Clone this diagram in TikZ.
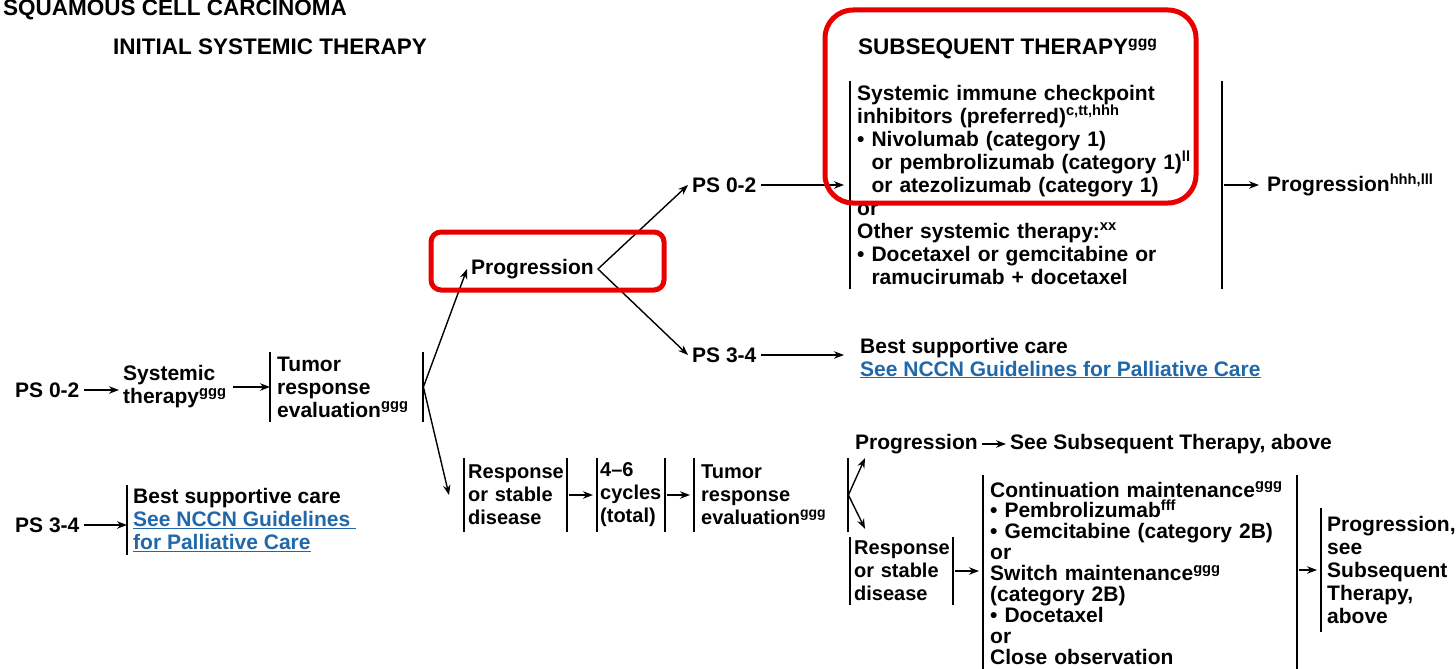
\documentclass[tikz,border=0pt]{standalone}
\usepackage{fontspec}
\setmainfont{Liberation Sans}
\usetikzlibrary{positioning,arrows.meta}

\definecolor{linkblue}{RGB}{33,104,170}
\definecolor{markred}{RGB}{232,0,0}
\newcommand{\ftn}[1]{\textsuperscript{#1}}

\begin{document}
\begin{tikzpicture}[x=1pt,y=-1pt,
  font=\fontsize{21}{23}\selectfont\bfseries,
  every node/.style={inner sep=4pt},
  txt/.style={anchor=west,align=left},
  brk/.style={anchor=west,align=left,inner xsep=7pt,inner ysep=0pt},
  head/.style={anchor=base west,inner sep=0pt,font=\fontsize{22.5}{24}\selectfont\bfseries},
  lowtxt/.style={font=\fontsize{20}{23}\selectfont\bfseries},
  bar/.style={line width=2pt},
  arr/.style={->,>={Stealth[length=10pt,width=7.5pt]},line width=1.4pt},
  gap/.style={shorten <=2pt,shorten >=4pt},
  redbox/.style={draw=markred,line width=5pt}]

\useasboundingbox (0,0) rectangle (1456,669);

\node[head] (hsq) at (3,16) {SQUAMOUS CELL CARCINOMA};
\node[head] (hini) at (113,55) {INITIAL SYSTEMIC THERAPY};
\node[head] (hsub) at (858,55) {SUBSEQUENT THERAPY\ftn{ggg}};

% initial therapy
\node[txt] (ps02a) at (11,390) {PS 0-2};
\node[txt] (sysA) at (119,387) {Systemic\\therapy\ftn{ggg}};
\node[brk,text width=139pt,minimum height=70pt] (tumorA) at (270,387)
  {Tumor\\response\\evaluation\ftn{ggg}};
\node[txt] (ps34a) at (11,525) {PS 3-4};
\node[brk,inner xsep=6pt,minimum height=70pt] (bscA) at (127,520)
  {Best supportive care\\
   \textcolor{linkblue}{\underline{See NCCN Guidelines\ }}\\
   \textcolor{linkblue}{\underline{for Palliative Care}}};

% progression
\node[txt] (prog) at (467,269) {Progression};
\node[txt] (ps02b) at (688,185) {PS 0-2};
\node[txt] (ps34b) at (688,355) {PS 3-4};
\node[brk,text width=358pt,minimum height=208pt] (subs) at (850,185)
  {Systemic immune checkpoint\\
   inhibitors (preferred)\ftn{c,tt,hhh}\\
   \textbullet\ Nivolumab (category 1)\\
   \phantom{\textbullet\ }or pembrolizumab (category 1)\ftn{ll}\\
   \phantom{\textbullet\ }or atezolizumab (category 1)\\
   or\\
   Other systemic therapy:\ftn{xx}\\
   \textbullet\ Docetaxel or gemcitabine or\\
   \phantom{\textbullet\ }ramucirumab + docetaxel};
\node[txt] (progB) at (1263,185) {Progression\ftn{hhh,lll}};
\node[txt,inner xsep=8pt] (bscB) at (852,358)
  {Best supportive care\\
   \textcolor{linkblue}{\underline{See NCCN Guidelines for Palliative Care}}};

% response or stable disease
\node[brk,lowtxt,text width=95pt,inner xsep=4pt,minimum height=74pt] (respA) at (464,495)
  {Response\\or stable\\disease};
\node[brk,lowtxt,text width=62pt,inner xsep=3pt,minimum height=74pt] (cyc) at (597,495)
  {4--6\\cycles\\(total)};
\node[brk,lowtxt,text width=140pt,minimum height=74pt] (tumorB) at (694,495)
  {Tumor\\response\\evaluation\ftn{ggg}};
\node[txt] (progC) at (851,444) {Progression};
\node[txt] (seeSub) at (1006,444) {See Subsequent Therapy, above};
\node[brk,lowtxt,text width=95pt,inner xsep=4pt,minimum height=68pt] (respB) at (850,571)
  {Response\\or stable\\disease};
\node[brk,text width=300pt,minimum height=196pt,
  font=\fontsize{21}{20.9}\selectfont\bfseries] (contB) at (983,573)
  {Continuation maintenance\ftn{ggg}\\
   \textbullet\ Pembrolizumab\ftn{fff}\\
   \textbullet\ Gemcitabine (category 2B)\\
   or\\
   Switch maintenance\ftn{ggg}\\
   (category 2B)\\
   \textbullet\ Docetaxel\\
   or\\
   Close observation};
\node[brk,inner xsep=6pt,text width=132pt,minimum height=124pt] (progD) at (1321,570)
  {Progression,\\see\\Subsequent\\Therapy,\\above};

% bars
\foreach \n in {tumorA,subs,respA,cyc,tumorB,respB,contB}
  \draw[bar] (\n.north west) -- (\n.south west) (\n.north east) -- (\n.south east);
\foreach \n in {bscA,progD}
  \draw[bar] (\n.north west) -- (\n.south west);

% arrows
\draw[arr] (ps02a.east) -- (ps02a.east -| sysA.west);
\draw[arr,shorten <=2pt] (sysA.east) -- (sysA.east -| tumorA.west);
\draw[arr] (ps34a.east) -- (ps34a.east -| bscA.west);
\draw[arr] (tumorA.east) -- (prog.west);
\draw[arr] (tumorA.east) -- ([xshift=-15pt]respA.west);
\draw[arr] (prog.east) -- (ps02b.west);
\draw[arr] (prog.east) -- (ps34b.west);
\draw[arr,shorten >=6pt] (ps02b.east) -- (ps02b.east -| subs.west);
\draw[arr,shorten >=8pt] (ps34b.east) -- (ps34b.east -| bscB.west);
\draw[arr,gap] (subs.east) -- (subs.east -| progB.west);
\draw[arr,gap] (respA.east) -- (respA.east -| cyc.west);
\draw[arr,gap] (cyc.east) -- (cyc.east -| tumorB.west);
\draw[arr] (tumorB.east) -- ([xshift=14pt]progC.south west);
\draw[arr] (tumorB.east) -- ([xshift=15pt,yshift=8pt]respB.north west);
\draw[arr] (progC.east) -- (progC.east -| seeSub.west);
\draw[arr,gap] (respB.east) -- (respB.east -| contB.west);
\draw[arr,gap] (contB.east |- progD.west) -- (progD.west);

% highlights
\draw[redbox,rounded corners=10pt] (431,232) rectangle (664,290);
\draw[redbox,rounded corners=28pt] (825,10) rectangle (1196,203);

\end{tikzpicture}
\end{document}
